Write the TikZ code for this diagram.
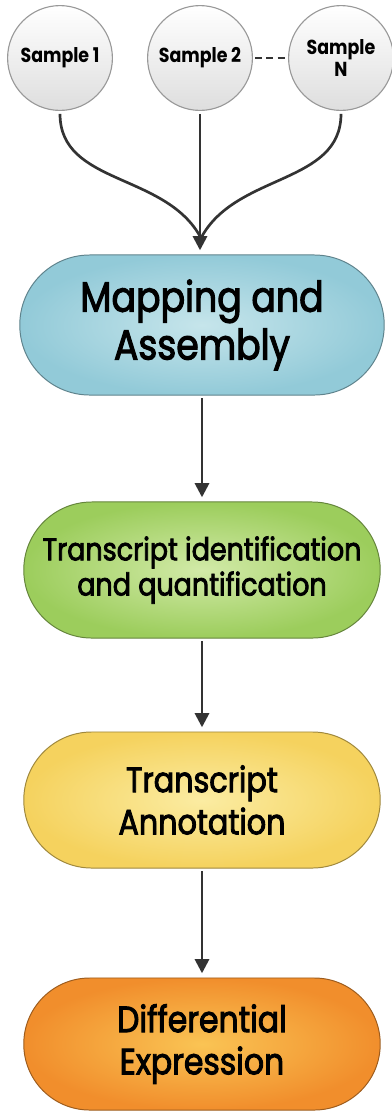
\documentclass[tikz,border=0pt]{standalone}
\usepackage{fontspec}
\setmainfont{Poppins}[FakeStretch=0.86]
\newfontfamily\stagefont{Poppins}[FakeStretch=0.86,FakeBold=2.5]
\usetikzlibrary{shapes.misc,arrows.meta}
\definecolor{mapblue}{RGB}{146,202,216}
\definecolor{mapcore}{RGB}{198,229,235}
\definecolor{quantgreen}{RGB}{156,205,92}
\definecolor{quantcore}{RGB}{210,234,168}
\definecolor{annotyellow}{RGB}{245,210,94}
\definecolor{annotcore}{RGB}{251,236,162}
\definecolor{diffcoral}{RGB}{241,142,44}
\definecolor{diffcore}{RGB}{250,196,84}
\begin{document}
\begin{tikzpicture}[x=0.025cm,y=-0.025cm,
    sample/.style={circle,draw=black!40,thick,minimum size=2.62cm,inner sep=0pt,
        top color=white,bottom color=black!13,align=center,
        font=\bfseries\fontsize{14.4}{16}\selectfont},
    stage/.style 2 args={rounded rectangle,draw=#1!65!black,line width=0.7pt,
        minimum width=9.05cm,minimum height=3.4cm,inner sep=2pt,
        inner color=#2,outer color=#1,align=center},
    link/.style={line width=1.9pt,draw=black!80,shorten <=2pt},
    flow/.style={link,shorten >=3pt,-{Triangle[length=10pt,width=10pt]}}]
    \useasboundingbox (0,0) rectangle (392,1114);
    % samples
    \node[sample] (s1) at (60,58) {Sample 1};
    \node[sample] (s2) at (200,58) {Sample 2};
    \node[sample] (sN) at (341,58) {Sample\\N};
    \draw[link,dash pattern=on 5pt off 3pt,line width=1.5pt,shorten <=1.5pt]
        (s2.east) -- (sN.west);
    % pipeline
    \node[stage={mapblue}{mapcore},minimum width=9.25cm,minimum height=3.5cm,
        font=\stagefont\fontsize{30}{34}\selectfont] (map) at (202,325) {Mapping and\\Assembly};
    \node[stage={quantgreen}{quantcore},font=\stagefont\fontsize{22.3}{25}\selectfont]
        (quant) at (202,570) {Transcript identification\\and quantification};
    \node[stage={annotyellow}{annotcore},font=\stagefont\fontsize{25}{30}\selectfont]
        (annot) at (202,800) {Transcript\\Annotation};
    \node[stage={diffcoral}{diffcore},minimum height=3.3cm,font=\stagefont\fontsize{26}{30}\selectfont]
        (diff) at (202,1044) {Differential\\Expression};
    \coordinate (merge) at (201,238);
    \draw[link] (s1.south) to[out=-90,in=118] (merge);
    \draw[link] (sN.south) to[out=-90,in=62] (merge);
    \draw[flow] (s2.south) -- (map.north -| s2.south);
    \foreach \a/\b in {map/quant,quant/annot,annot/diff}{
        \draw[flow] (\a.south) -- (\b.north);
    }
\end{tikzpicture}
\end{document}
